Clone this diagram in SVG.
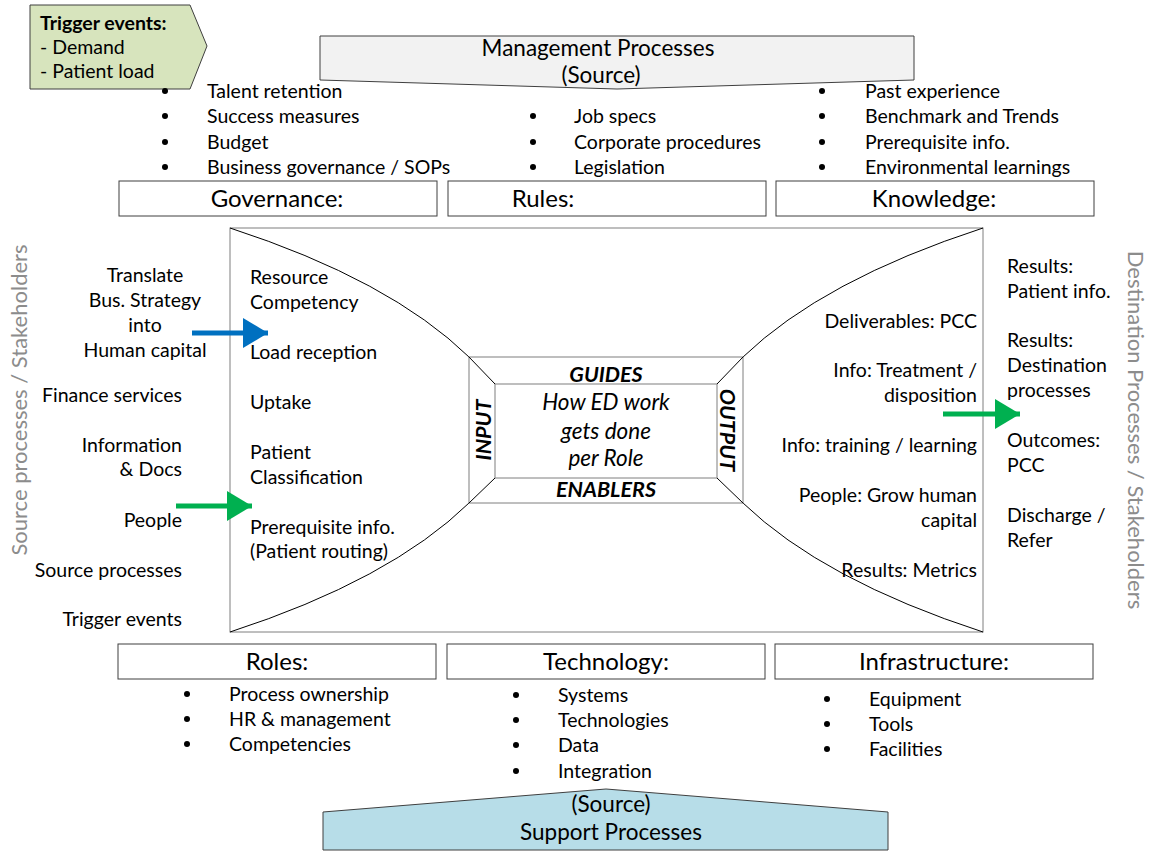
<svg xmlns="http://www.w3.org/2000/svg" width="1153" height="852" viewBox="0 0 1153 852">
<style>
text{font-family:Lato,"Open Sans","Liberation Sans",sans-serif;fill:#000;font-size:19.5px}
.h{font-size:24px;text-anchor:middle}
.c{text-anchor:middle}
.r{text-anchor:end}
.p{font-size:22.5px;text-anchor:middle}
.bi{font-weight:bold;font-style:italic;font-size:21.5px;text-anchor:middle}
.it{font-style:italic;font-size:22.5px;text-anchor:middle}
.g{fill:#8c8c8c;font-size:22px;text-anchor:middle}
.box{fill:#fff;stroke:#3f3f3f;stroke-width:1}
.dot{fill:#000}
</style>
<defs>
<marker id="mb" markerWidth="6" markerHeight="6" refX="5" refY="3" orient="auto" markerUnits="strokeWidth"><path d="M0,0 L5,3 L0,6 Z" fill="#0070c0"/></marker>
<marker id="mg" markerWidth="6" markerHeight="6" refX="5" refY="3" orient="auto" markerUnits="strokeWidth"><path d="M0,0 L5,3 L0,6 Z" fill="#00b050"/></marker>
</defs>
<rect width="1153" height="852" fill="#fff"/>

<g id="trigger">
<polygon points="30,5 190,5 207,46 190,89 30,89" fill="#d7e4bd" stroke="#3f3f3f"/>
<text x="40" y="30" font-weight="bold">Trigger events:</text>
<text x="40" y="54">- Demand</text>
<text x="40" y="78">- Patient load</text>
</g>

<g id="management">
<polygon points="320,36 914,36 914,80 617,89 320,80" fill="#f2f2f2" stroke="#3f3f3f"/>
<text x="598" y="56" class="p">Management Processes</text>
<text x="601" y="83" class="p">(Source)</text>
</g>

<g id="governance-list">
<circle cx="165" cy="91" r="3" class="dot"/><text x="207" y="98">Talent retention</text>
<circle cx="165" cy="116" r="3" class="dot"/><text x="207" y="123">Success measures</text>
<circle cx="165" cy="142" r="3" class="dot"/><text x="207" y="149">Budget</text>
<circle cx="165" cy="167" r="3" class="dot"/><text x="207" y="174">Business governance / SOPs</text>
</g>
<g id="rules-list">
<circle cx="533" cy="116" r="3" class="dot"/><text x="574" y="123">Job specs</text>
<circle cx="533" cy="142" r="3" class="dot"/><text x="574" y="149">Corporate procedures</text>
<circle cx="533" cy="167" r="3" class="dot"/><text x="574" y="174">Legislation</text>
</g>
<g id="knowledge-list">
<circle cx="822" cy="91" r="3" class="dot"/><text x="865" y="98">Past experience</text>
<circle cx="822" cy="116" r="3" class="dot"/><text x="865" y="123">Benchmark and Trends</text>
<circle cx="822" cy="142" r="3" class="dot"/><text x="865" y="149">Prerequisite info.</text>
<circle cx="822" cy="167" r="3" class="dot"/><text x="865" y="174">Environmental learnings</text>
</g>

<g id="governance"><rect x="119" y="181" width="318" height="35" class="box"/><text x="277" y="207" class="h">Governance:</text></g>
<g id="rules"><rect x="448" y="181" width="318" height="35" class="box"/><text x="543" y="207" class="h">Rules:</text></g>
<g id="knowledge"><rect x="776" y="181" width="318" height="35" class="box"/><text x="934" y="207" class="h">Knowledge:</text></g>

<g id="process-frame">
<rect x="230" y="228" width="753" height="404" fill="#fff" stroke="#7f7f7f"/>
<path d="M230,228 Q390,280 469,357 M230,632 Q390,580 469,503 M983,228 Q823,280 743,357 M983,632 Q823,580 743,503" fill="none" stroke="#000" stroke-width="1"/>
<rect x="469" y="357" width="274" height="146" fill="none" stroke="#7f7f7f"/>
<rect x="495" y="384" width="222" height="94" fill="none" stroke="#7f7f7f"/>
<path d="M469,357 L495,384 M743,357 L717,384 M469,503 L495,478 M743,503 L717,478" stroke="#000" stroke-width="1"/>
<text x="606" y="382" class="bi">GUIDES</text>
<text x="606" y="497" class="bi">ENABLERS</text>
<text x="606" y="410" class="it">How ED work</text>
<text x="606" y="439" class="it">gets done</text>
<text x="606" y="466" class="it">per Role</text>
<text transform="translate(491,430) rotate(-90)" class="bi">INPUT</text>
<text transform="translate(720,430) rotate(90)" class="bi">OUTPUT</text>
</g>

<g id="inputs">
<text x="250" y="284">Resource</text>
<text x="250" y="309">Competency</text>
<text x="250" y="359">Load reception</text>
<text x="250" y="409">Uptake</text>
<text x="250" y="459">Patient</text>
<text x="250" y="484">Classification</text>
<text x="250" y="534">Prerequisite info.</text>
<text x="250" y="558">(Patient routing)</text>
</g>

<g id="outputs">
<text x="977" y="328" class="r">Deliverables: PCC</text>
<text x="977" y="377" class="r">Info: Treatment /</text>
<text x="977" y="402" class="r">disposition</text>
<text x="977" y="452" class="r">Info: training / learning</text>
<text x="977" y="502" class="r">People: Grow human</text>
<text x="977" y="527" class="r">capital</text>
<text x="977" y="577" class="r">Results: Metrics</text>
</g>

<g id="sources">
<text x="145" y="282" class="c">Translate</text>
<text x="145" y="307" class="c">Bus. Strategy</text>
<text x="145" y="332" class="c">into</text>
<text x="145" y="357" class="c">Human capital</text>
<text x="182" y="402" class="r">Finance services</text>
<text x="182" y="452" class="r">Information</text>
<text x="182" y="476" class="r">&amp; Docs</text>
<text x="182" y="527" class="r">People</text>
<text x="182" y="577" class="r">Source processes</text>
<text x="182" y="626" class="r">Trigger events</text>
<text transform="translate(27,400) rotate(-90)" class="g">Source processes / Stakeholders</text>
</g>

<g id="destinations">
<text x="1007" y="273">Results:</text>
<text x="1007" y="298">Patient info.</text>
<text x="1007" y="347">Results:</text>
<text x="1007" y="372">Destination</text>
<text x="1007" y="397">processes</text>
<text x="1007" y="447">Outcomes:</text>
<text x="1007" y="472">PCC</text>
<text x="1007" y="522">Discharge /</text>
<text x="1007" y="547">Refer</text>
<text transform="translate(1128,430) rotate(90)" class="g">Destination Processes / Stakeholders</text>
</g>

<g id="connectors">
<line x1="192" y1="333" x2="268" y2="333" stroke="#0070c0" stroke-width="5" marker-end="url(#mb)"/>
<line x1="176" y1="506" x2="252" y2="506" stroke="#00b050" stroke-width="5" marker-end="url(#mg)"/>
<line x1="943" y1="414" x2="1020" y2="414" stroke="#00b050" stroke-width="5" marker-end="url(#mg)"/>
</g>

<g id="roles"><rect x="118" y="644" width="318" height="35" class="box"/><text x="277" y="670" class="h">Roles:</text></g>
<g id="technology"><rect x="447" y="644" width="318" height="35" class="box"/><text x="606" y="670" class="h">Technology:</text></g>
<g id="infrastructure"><rect x="775" y="644" width="318" height="35" class="box"/><text x="934" y="670" class="h">Infrastructure:</text></g>

<g id="roles-list">
<circle cx="187" cy="694" r="3" class="dot"/><text x="229" y="701">Process ownership</text>
<circle cx="187" cy="719" r="3" class="dot"/><text x="229" y="726">HR &amp; management</text>
<circle cx="187" cy="744" r="3" class="dot"/><text x="229" y="751">Competencies</text>
</g>
<g id="technology-list">
<circle cx="516" cy="695" r="3" class="dot"/><text x="558" y="702">Systems</text>
<circle cx="516" cy="720" r="3" class="dot"/><text x="558" y="727">Technologies</text>
<circle cx="516" cy="745" r="3" class="dot"/><text x="558" y="752">Data</text>
<circle cx="516" cy="771" r="3" class="dot"/><text x="558" y="778">Integration</text>
</g>
<g id="infrastructure-list">
<circle cx="827" cy="699" r="3" class="dot"/><text x="869" y="706">Equipment</text>
<circle cx="827" cy="724" r="3" class="dot"/><text x="869" y="731">Tools</text>
<circle cx="827" cy="749" r="3" class="dot"/><text x="869" y="756">Facilities</text>
</g>

<g id="support">
<polygon points="323,812 606,789 888,812 888,850 323,850" fill="#b7dde8" stroke="#3f3f3f"/>
<text x="611" y="812" class="p">(Source)</text>
<text x="611" y="840" class="p">Support Processes</text>
</g>
</svg>
